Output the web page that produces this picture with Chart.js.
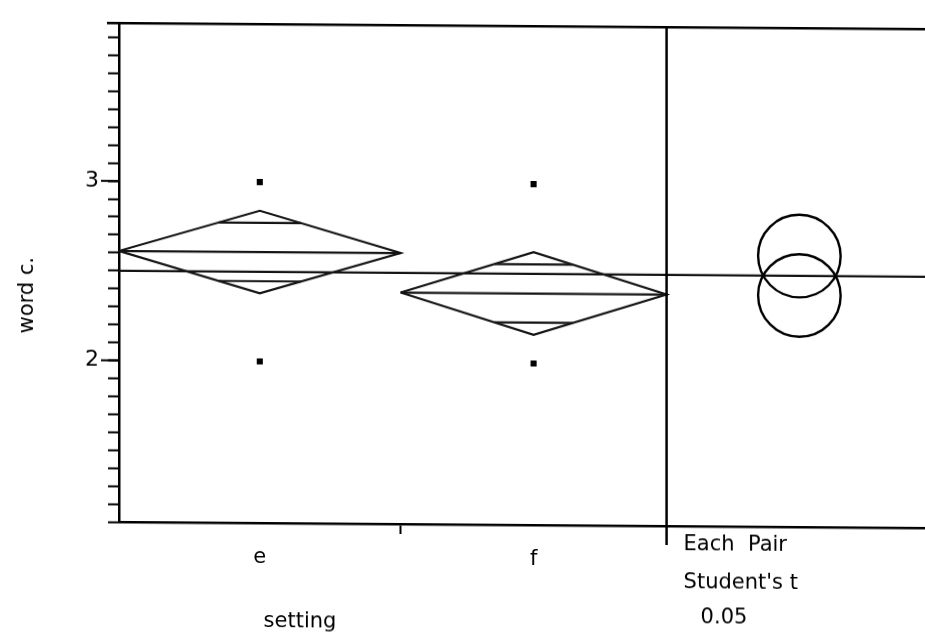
<!DOCTYPE html>
<html>
<head>
<meta charset="utf-8">
<title>word c. by setting</title>
<script src="https://cdn.jsdelivr.net/npm/chart.js@4.4.1/dist/chart.umd.min.js"></script>
<style>
  html, body { margin: 0; padding: 0; background: #fff; overflow: hidden; }
  #wrap { width: 925px; height: 634px; overflow: hidden; }
  /* the whole plot sits slightly tilted; the canvas runs a little past the right edge */
  canvas { transform: skewY(0.43deg); transform-origin: 0 0; }
</style>
</head>
<body>
<div id="wrap"><canvas id="chart" width="931" height="634"></canvas></div>
<script>
// groups and summary values
const groups = ['e', 'f'];
const groupCounts = [18, 17];
const groupMeans = [2.61, 2.39];
const ciHalf = [0.23, 0.23];
const pointsE = [3, 2];
const pointsF = [3, 2];
const grandMean = 2.5;
const yTickLabels = [2, 3];
const panelText = ['Each  Pair', "Student's t", '0.05'];

const FONT = 'DejaVu Sans';
const FONT_SIZE = 21;
const INK = '#000';
const LINE = '#141414';
const X_MAX = 2.95;
const PANEL_START = 2;

// group extents on the x axis (width proportional to count)
const total = groupCounts.reduce((a, b) => a + b, 0);
const bounds = [0];
groupCounts.forEach(n => bounds.push(bounds[bounds.length - 1] + PANEL_START * n / total));
const centers = groups.map((g, i) => (bounds[i] + bounds[i + 1]) / 2);

function diamond(i) {
  const x0 = bounds[i], x1 = bounds[i + 1], xc = centers[i];
  const m = groupMeans[i], h = ciHalf[i];
  return [{x: x0, y: m}, {x: xc, y: m + h}, {x: x1, y: m}, {x: xc, y: m - h}, {x: x0, y: m}];
}
function meanLine(i) {
  return [{x: bounds[i], y: groupMeans[i]}, {x: bounds[i + 1], y: groupMeans[i]}];
}
// overlap marks: at mean +/- half/sqrt(2), spanning the diamond width there
function overlapMark(i, sign) {
  const h = ciHalf[i] / Math.SQRT2;
  const half = (bounds[i + 1] - bounds[i]) / 2 * (1 - 1 / Math.SQRT2);
  const yv = groupMeans[i] + sign * h;
  return [{x: centers[i] - half, y: yv}, {x: centers[i] + half, y: yv}];
}

function lineSet(data) {
  return {type: 'line', data: data, borderColor: LINE, borderWidth: 2.2,
          pointRadius: 0, tension: 0, fill: false};
}

const datasets = [lineSet([{x: 0, y: grandMean}, {x: X_MAX, y: grandMean}])];
groups.forEach((g, i) => {
  datasets.push(lineSet(diamond(i)));
  datasets.push(lineSet(meanLine(i)));
  datasets.push(lineSet(overlapMark(i, 1)));
  datasets.push(lineSet(overlapMark(i, -1)));
});
datasets.push({
  type: 'scatter',
  data: pointsE.map(v => ({x: centers[0], y: v})).concat(pointsF.map(v => ({x: centers[1], y: v}))),
  pointStyle: 'rect', pointRadius: 4.3, backgroundColor: INK, borderColor: INK, borderWidth: 0
});

function seg(ctx, x1, y1, x2, y2) {
  ctx.beginPath();
  ctx.moveTo(x1, y1);
  ctx.lineTo(x2, y2);
  ctx.stroke();
}

const extras = {
  id: 'extras',
  afterDraw(chart) {
    const {ctx, chartArea: a, scales: {x, y}} = chart;
    ctx.save();
    ctx.strokeStyle = INK;
    ctx.lineWidth = 2.5;
    // frame top
    seg(ctx, a.left - 12, a.top, chart.width, a.top);
    // separator before the comparison panel
    const sx = x.getPixelForValue(PANEL_START);
    seg(ctx, sx, a.top, sx, a.bottom + 19);
    // longer ticks at labelled values
    ctx.lineWidth = 2;
    yTickLabels.forEach(v => {
      const py = y.getPixelForValue(v);
      seg(ctx, a.left - 18, py, a.left, py);
    });

    // comparison circles
    const cx = x.getPixelForValue((PANEL_START + X_MAX) / 2 + 0.01);
    ctx.lineWidth = 2.4;
    groups.forEach((g, i) => {
      const cy = y.getPixelForValue(groupMeans[i]);
      const r = Math.abs(y.getPixelForValue(groupMeans[i] - ciHalf[i]) - cy);
      ctx.beginPath();
      ctx.arc(cx, cy, r, 0, Math.PI * 2);
      ctx.stroke();
    });

    // text
    ctx.fillStyle = INK;
    ctx.font = FONT_SIZE + 'px "' + FONT + '"';
    ctx.textBaseline = 'middle';
    ctx.textAlign = 'left';
    ctx.fillText(panelText[0], sx + 17, 540);
    ctx.fillText(panelText[1], sx + 17, 578);
    ctx.fillText(panelText[2], sx + 34, 613);
    ctx.textAlign = 'center';
    ctx.fillText('setting', 300, 620);
    ctx.translate(28, 295);
    ctx.rotate(-Math.PI / 2);
    ctx.fillText('word c.', 0, 0);
    ctx.restore();
  }
};

new Chart(document.getElementById('chart'), {
  type: 'scatter',
  data: {datasets: datasets},
  options: {
    responsive: false,
    animation: false,
    layout: {padding: {top: 13, right: 0, left: 0, bottom: 0}},
    plugins: {legend: {display: false}, tooltip: {enabled: false}},
    scales: {
      x: {
        type: 'linear', min: 0, max: X_MAX,
        afterBuildTicks: s => { s.ticks = [{value: centers[0]}, {value: bounds[1]}, {value: centers[1]}]; },
        afterFit: s => { s.height = 113; },
        ticks: {
          autoSkip: false, maxRotation: 0, padding: 12, color: INK,
          font: {family: FONT, size: FONT_SIZE},
          callback: (v, idx) => idx === 0 ? groups[0] : idx === 2 ? groups[1] : ''
        },
        grid: {
          drawOnChartArea: false, drawTicks: true, tickLength: 10, tickWidth: 2,
          tickColor: c => c.index === 1 ? INK : 'rgba(0,0,0,0)'
        },
        border: {color: INK, width: 2.5}
      },
      y: {
        min: 1.1, max: 3.88,
        afterBuildTicks: s => {
          const t = [];
          for (let i = 11; i <= 38; i++) t.push({value: i / 10});
          s.ticks = t;
        },
        afterFit: s => { s.width = 119; },
        ticks: {
          autoSkip: false, padding: 9, color: INK,
          font: {family: FONT, size: FONT_SIZE + 1},
          callback: v => yTickLabels.includes(v) ? String(v) : ''
        },
        grid: {drawOnChartArea: false, drawTicks: true, tickLength: 11, tickWidth: 2, tickColor: INK},
        border: {color: INK, width: 2.5}
      }
    }
  },
  plugins: [extras]
});
</script>
</body>
</html>
